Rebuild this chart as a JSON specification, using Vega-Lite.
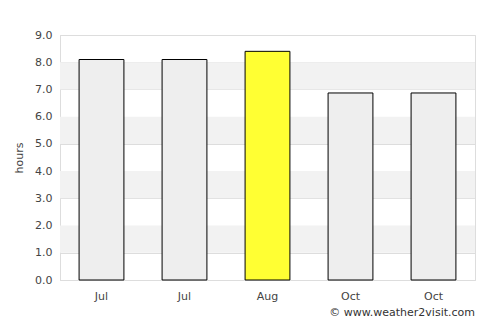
{
  "$schema": "https://vega.github.io/schema/vega-lite/v6.json",
  "width": 415,
  "height": 245,
  "autosize": {"type": "none"},
  "padding": {"left": 60, "top": 35, "right": 25, "bottom": 45},
  "background": "white",
  "config": {
    "view": {"stroke": "#dddddd", "strokeWidth": 1},
    "font": "DejaVu Sans",
    "axisY": {
      "title": "hours",
      "titleFontSize": 11,
      "titleFontWeight": "normal",
      "titleColor": "#444444",
      "titlePadding": 10,
      "values": [0, 1, 2, 3, 4, 5, 6, 7, 8, 9],
      "format": ".1f",
      "labelFontSize": 11,
      "labelColor": "#444444",
      "labelPadding": 8,
      "labelOverlap": false,
      "ticks": false,
      "domain": true,
      "domainColor": "#dddddd",
      "grid": true,
      "gridColor": "#dddddd"
    }
  },
  "title": {
    "text": "© www.weather2visit.com",
    "orient": "bottom",
    "anchor": "end",
    "fontSize": 11,
    "fontWeight": "normal",
    "color": "#333333",
    "font": "DejaVu Sans",
    "offset": 6
  },
  "datasets": {
    "bars": [
      {"key": "Jul|1", "month": "Jul", "hours": 8.1, "highlight": "no"},
      {"key": "Jul|2", "month": "Jul", "hours": 8.1, "highlight": "no"},
      {"key": "Aug|3", "month": "Aug", "hours": 8.4, "highlight": "yes"},
      {"key": "Oct|4", "month": "Oct", "hours": 6.87, "highlight": "no"},
      {"key": "Oct|5", "month": "Oct", "hours": 6.87, "highlight": "no"}
    ],
    "bands": [
      {"y": 1, "y2": 2},
      {"y": 3, "y2": 4},
      {"y": 5, "y2": 6},
      {"y": 7, "y2": 8}
    ]
  },
  "layer": [
    {
      "data": {"name": "bands"},
      "mark": {"type": "rect", "color": "#f2f2f2"},
      "encoding": {
        "y": {"field": "y", "type": "quantitative", "scale": {"domain": [0, 9]}, "title": "hours"},
        "y2": {"field": "y2"}
      }
    },
    {
      "data": {"name": "bars"},
      "mark": {"type": "bar", "stroke": "#000000", "strokeWidth": 1},
      "encoding": {
        "x": {
          "field": "key",
          "type": "nominal",
          "sort": null,
          "scale": {"paddingInner": 0.46, "paddingOuter": 0.23},
          "axis": {
            "title": null,
            "labelAngle": 0,
            "labelExpr": "split(datum.value, '|')[0]",
            "labelFontSize": 11,
            "labelColor": "#444444",
            "labelPadding": 10,
            "ticks": false,
            "domain": true,
            "domainColor": "#dddddd",
            "grid": false
          }
        },
        "y": {
          "field": "hours",
          "type": "quantitative",
          "scale": {"domain": [0, 9]},
          "title": "hours"
        },
        "fill": {
          "field": "highlight",
          "type": "nominal",
          "scale": {"domain": ["no", "yes"], "range": ["#eeeeee", "#ffff33"]},
          "legend": null
        }
      }
    }
  ]
}
